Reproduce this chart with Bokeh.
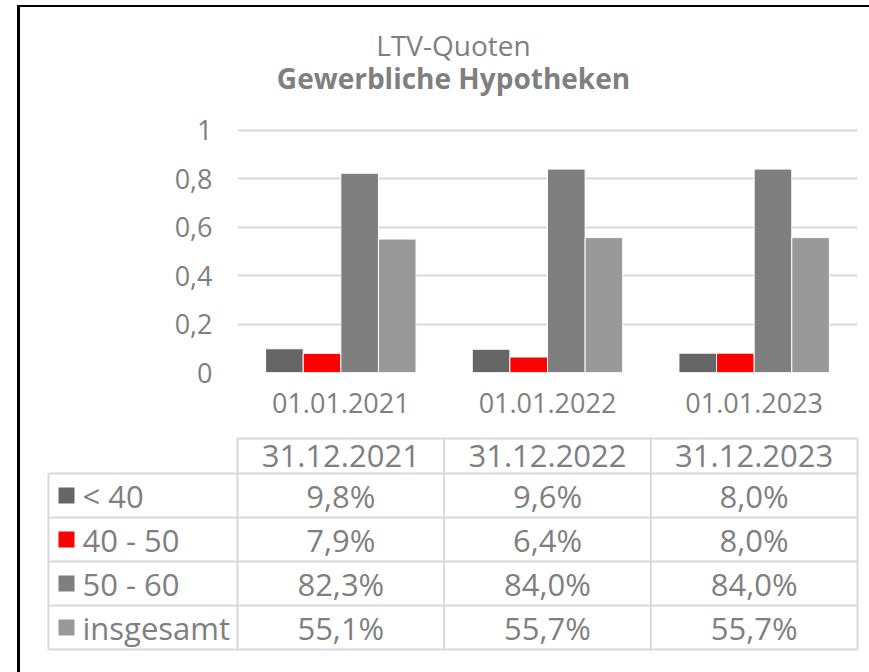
from bokeh.plotting import figure
from bokeh.models import FactorRange, Range1d, FixedTicker, ColumnDataSource
from bokeh.transform import dodge
from bokeh.layouts import column
from bokeh.core.properties import value
from bokeh.embed import file_html
from bokeh.resources import INLINE

# ---------------- data ----------------
title_line1 = "LTV-Quoten"
title_line2 = "Gewerbliche Hypotheken"
categories = ["01.01.2021", "01.01.2022", "01.01.2023"]
table_headers = ["31.12.2021", "31.12.2022", "31.12.2023"]
series_names = ["< 40", "40 - 50", "50 - 60", "insgesamt"]
values_lt40 = [0.098, 0.096, 0.080]
values_40_50 = [0.079, 0.064, 0.080]
values_50_60 = [0.823, 0.840, 0.840]
values_total = [0.551, 0.557, 0.557]
y_ticks = [0, 0.2, 0.4, 0.6, 0.8, 1]
y_tick_labels = ["0", "0,2", "0,4", "0,6", "0,8", "1"]

# ---------------- style / layout ----------------
series_colors = ["#666666", "#FF0000", "#7F7F7F", "#999999"]
FONT = "Open Sans"
TEXT = "#7F7F7F"
GRID = "#D9D9D9"
series_values = [values_lt40, values_40_50, values_50_60, values_total]

W = 849                 # content width (page x 20..869)
TITLE_H = 103
CH_H = 320
T_H = 242
FR_LEFT, FR_RIGHT, FR_TOP, FR_BOTTOM = 217, 12, 15, 58
Y_MAX = 1.02
frame_w = W - FR_LEFT - FR_RIGHT


def base_fig(**kw):
    f = figure(output_backend="svg", toolbar_location=None, **kw)
    f.frame_align = False
    f.outline_line_color = None
    return f


# ---------------- title ----------------
tf = base_fig(x_range=Range1d(0, W), y_range=Range1d(TITLE_H, 0), width=W, height=TITLE_H,
              min_border=0, x_axis_location=None, y_axis_location=None)
tf.xgrid.visible = False
tf.ygrid.visible = False
title_cx = 433
tf.text(x=[title_cx], y=[37], text=[title_line1], text_align="center",
        text_baseline="alphabetic", text_font=value(FONT), text_font_size="28px", text_color=TEXT)
tf.text(x=[title_cx], y=[70], text=[title_line2], text_align="center",
        text_baseline="alphabetic", text_font=value(FONT), text_font_size="28px",
        text_font_style="bold", text_color=TEXT)

# ---------------- chart ----------------
src = ColumnDataSource(dict(cat=categories, **{f"s{i}": v for i, v in enumerate(series_values)}))

p = base_fig(x_range=FactorRange(*categories), y_range=Range1d(0, Y_MAX),
             width=W, height=CH_H,
             min_border_left=FR_LEFT, min_border_right=FR_RIGHT,
             min_border_top=FR_TOP, min_border_bottom=FR_BOTTOM)

bar_w = 0.182
n = len(series_names)
for i in range(n):
    off = (i - (n - 1) / 2) * bar_w
    p.vbar(x=dodge("cat", off, range=p.x_range), top=f"s{i}", width=bar_w, source=src,
           fill_color=series_colors[i], line_color="white", line_width=1)

p.xgrid.grid_line_color = None
p.ygrid.grid_line_color = GRID
p.ygrid.grid_line_width = 2
p.yaxis.ticker = FixedTicker(ticks=y_ticks)
p.yaxis.major_label_overrides = dict(zip(y_ticks, y_tick_labels))
for ax in (p.xaxis, p.yaxis):
    ax.axis_line_color = None
    ax.major_tick_line_color = None
    ax.minor_tick_line_color = None
    ax.major_tick_out = 0
    ax.major_tick_in = 0
    ax.major_label_text_color = TEXT
    ax.major_label_text_font = FONT
    ax.major_label_text_font_size = "27px"
p.xaxis.major_label_standoff = 20
p.yaxis.major_label_standoff = 25

# ---------------- table ----------------
col_px = frame_w / 3.0
row_px = 44.0
label_col_w = 189 / col_px
header_h = 35 / row_px
bottom_pad = 23 / row_px
n_rows = len(series_names)
n_cols = len(table_headers)
x0 = -FR_LEFT / col_px
y0 = -bottom_pad

t = base_fig(x_range=Range1d(x0, x0 + W / col_px), y_range=Range1d(y0, y0 + T_H / row_px),
             width=W, height=T_H, min_border=0, x_axis_location=None, y_axis_location=None)
t.xgrid.visible = False
t.ygrid.visible = False

lx = -label_col_w
sx0, sy0, sx1, sy1 = [], [], [], []
for k in range(n_rows + 1):
    sx0.append(lx); sx1.append(n_cols); sy0.append(k); sy1.append(k)
sx0.append(0); sx1.append(n_cols); sy0.append(n_rows + header_h); sy1.append(n_rows + header_h)
sx0.append(lx); sx1.append(lx); sy0.append(0); sy1.append(n_rows)
for j in range(n_cols + 1):
    sx0.append(j); sx1.append(j); sy0.append(0); sy1.append(n_rows + header_h)
t.segment(x0=sx0, y0=sy0, x1=sx1, y1=sy1, line_color=GRID, line_width=2)

t.text(x=[j + 0.5 for j in range(n_cols)], y=[n_rows + header_h / 2] * n_cols, text=table_headers,
       text_align="center", text_baseline="middle", text_font=value(FONT),
       text_font_size="31px", text_color=TEXT)

vx, vy, vt = [], [], []
for i, vals in enumerate(series_values):
    for j, v in enumerate(vals):
        vx.append(j + 0.5)
        vy.append(n_rows - i - 0.5)
        vt.append(f"{v * 100:.1f}%".replace(".", ","))
t.text(x=vx, y=vy, text=vt, text_align="center", text_baseline="middle",
       text_font=value(FONT), text_font_size="31px", text_color=TEXT)

ry = [n_rows - i - 0.5 for i in range(n_rows)]
t.scatter(x=[lx + 18 / col_px] * n_rows, y=ry, marker="square", size=16,
          fill_color=series_colors, line_color=None)
t.text(x=[lx + 34 / col_px] * n_rows, y=ry, text=series_names, text_align="left",
       text_baseline="middle", text_font=value(FONT), text_font_size="31px", text_color=TEXT)

layout = column(tf, p, t, styles={"margin-left": "17px", "margin-top": "5px",
                                  "border-left": "3px solid black",
                                  "border-top": "2px solid black"})

open("out.html", "w").write(file_html(layout, INLINE))
